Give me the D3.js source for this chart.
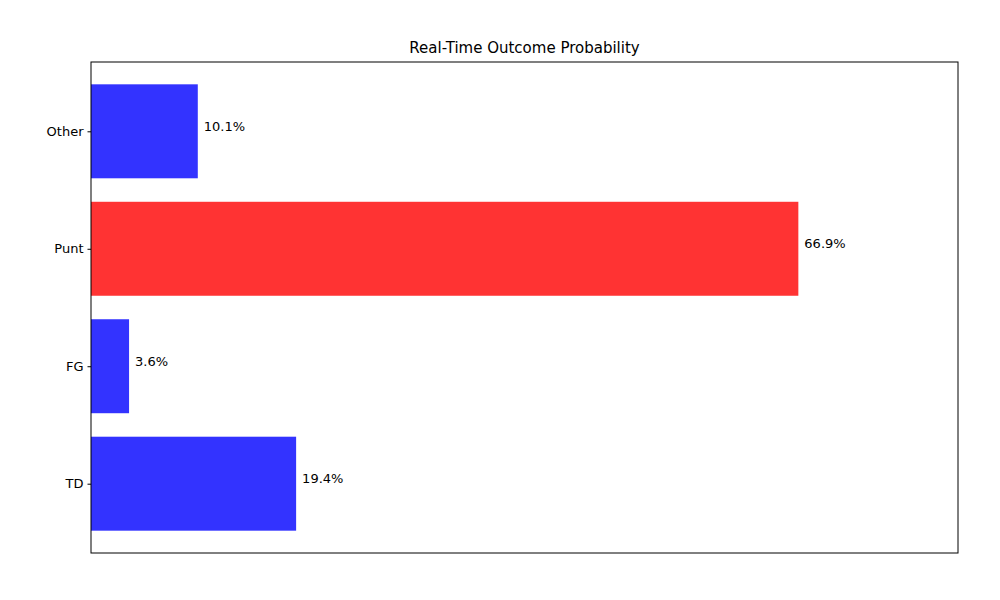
<!DOCTYPE html>
<html><head><meta charset="utf-8">
<script src="https://cdn.jsdelivr.net/npm/d3@7"></script>
<style>body{margin:0;background:#fff;font-family:"DejaVu Sans",sans-serif;}</style>
</head><body>
<svg id="c" width="1000" height="600"></svg>
<script>
var categories=["TD","FG","Punt","Other"];
var values=[19.4,3.6,66.9,10.1];
var colors=["#3333ff","#3333ff","#ff3333","#3333ff"];

var svg=d3.select("#c");
var L=91,R=958,T=62,B=553;
var x=d3.scaleLinear().domain([0,82]).range([L,R]);
var y=d3.scaleLinear().domain([-0.59,3.59]).range([B,T]);
var bh=y(0)-y(0.8);

svg.selectAll("rect.bar").data(values).enter().append("rect")
	.attr("class","bar")
	.attr("x",x(0))
	.attr("y",function(d,i){return y(i+0.4);})
	.attr("width",function(d){return x(d)-x(0);})
	.attr("height",bh)
	.attr("fill",function(d,i){return colors[i];});

svg.selectAll("text.val").data(values).enter().append("text")
	.attr("x",function(d){return x(d)+6;})
	.attr("y",function(d,i){return y(i)-5;})
	.attr("dy","0.35em")
	.style("font-size","13px")
	.text(function(d){return d.toFixed(1)+"%";});

var yAxis=d3.axisLeft(y).tickValues([0,1,2,3]).tickSize(3.5).tickPadding(4)
	.tickFormat(function(d){return categories[d];});
var g=svg.append("g").attr("transform","translate("+L+",0)").call(yAxis);
g.select(".domain").remove();
g.selectAll("text").style("font-size","13px").style("font-family","DejaVu Sans");

svg.append("rect").attr("x",L).attr("y",T).attr("width",R-L).attr("height",B-T)
	.attr("fill","none").attr("stroke","#000").attr("stroke-width",1);

svg.append("text").attr("x",(L+R)/2).attr("y",T-9).attr("text-anchor","middle")
	.style("font-size","15px").text("Real-Time Outcome Probability");
</script>
</body></html>
